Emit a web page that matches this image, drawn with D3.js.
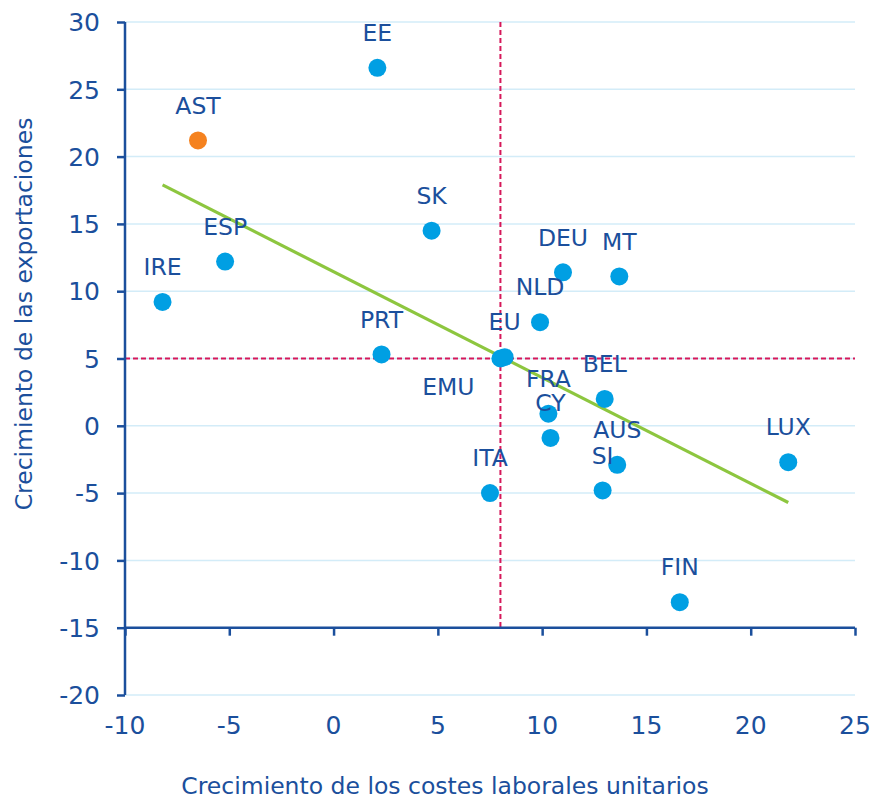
<!DOCTYPE html>
<html>
<head>
<meta charset="utf-8">
<script src="https://cdn.jsdelivr.net/npm/d3@7"></script>
<style>
  body { margin: 0; background: #fff; }
  text { font-family: "DejaVu Sans", Verdana, sans-serif; }
</style>
</head>
<body>
<div id="chart"></div>
<script>
// data
const countries = ["EE", "AST", "ESP", "IRE", "SK", "PRT", "EMU", "EU", "NLD", "DEU", "MT", "FRA", "CY", "BEL", "AUS", "SI", "ITA", "LUX", "FIN"];
const costGrowth = [2.1, -6.5, -5.2, -8.2, 4.7, 2.3, 8.0, 8.2, 9.9, 11.0, 13.7, 10.3, 10.4, 13.0, 13.6, 12.9, 7.5, 21.8, 16.6];
const exportGrowth = [26.6, 21.2, 12.2, 9.2, 14.5, 5.3, 5.0, 5.1, 7.7, 11.4, 11.1, 0.9, -0.9, 2.0, -2.9, -4.8, -5.0, -2.7, -13.1];
const highlight = ["AST"];
const trendX = [-8.2, 21.8];
const trendY = [17.9, -5.7];
const refX = 8.0;
const refY = 5;
const xTicks = [-10, -5, 0, 5, 10, 15, 20, 25];
const yTicks = [30, 25, 20, 15, 10, 5, 0, -5, -10, -15, -20];

const svgWidth = 872;
const svgHeight = 801;
const margin = { top: 22, right: 17, bottom: 106, left: 125 };
const width = svgWidth - margin.left - margin.right;
const height = svgHeight - margin.top - margin.bottom;

const axisColor = "#1b4f9c";
const textColor = "#1b4f9c";
const dotColor = "#009fe3";
const hiColor = "#f5821f";
const gridColor = "#d3ecf8";
const refColor = "#d6185a";
const trendColor = "#8dc63f";

const svg = d3.select("#chart")
    .append("svg")
    .attr("width", svgWidth)
    .attr("height", svgHeight)
    .append("g")
    .attr("transform", `translate(${margin.left},${margin.top})`);

const x = d3.scaleLinear().domain([-10, 25]).range([0, width]);
const y = d3.scaleLinear().domain([-20, 30]).range([height, 0]);

// grid
svg.append("g")
    .selectAll("line")
    .data(yTicks)
    .enter()
    .append("line")
    .attr("x1", 0)
    .attr("x2", width)
    .attr("y1", d => y(d))
    .attr("y2", d => y(d))
    .attr("stroke", gridColor)
    .attr("stroke-width", 1.5);

// reference lines
svg.append("line")
    .attr("x1", x(refX)).attr("x2", x(refX))
    .attr("y1", y(30)).attr("y2", y(-15))
    .attr("stroke", refColor)
    .attr("stroke-width", 2)
    .attr("stroke-dasharray", "5,3");

svg.append("line")
    .attr("x1", 0).attr("x2", width)
    .attr("y1", y(refY)).attr("y2", y(refY))
    .attr("stroke", refColor)
    .attr("stroke-width", 2)
    .attr("stroke-dasharray", "5,3");

// axes
const yAxis = d3.axisLeft(y).tickValues(yTicks).tickSize(8).tickPadding(17).tickFormat(d => String(d));
const gy = svg.append("g").attr("class", "y-axis").call(yAxis);

const xAxis = d3.axisBottom(x).tickValues(xTicks).tickSize(8).tickFormat(() => "");
const gx = svg.append("g")
    .attr("class", "x-axis")
    .attr("transform", `translate(0,${y(-15)})`)
    .call(xAxis);

[gx, gy].forEach(g => {
    g.select(".domain").attr("stroke", axisColor).attr("stroke-width", 2.5);
    g.selectAll(".tick line").attr("stroke", axisColor).attr("stroke-width", 2.5);
});
gx.select(".domain").attr("d", `M0,0H${width}`);
gy.select(".domain").attr("d", `M0,0V${height}`);
gy.selectAll(".tick text")
    .attr("fill", textColor)
    .style("font-size", "25px")
    .attr("dy", "0.35em");

// x tick labels sit below the bottom of the plot
svg.append("g")
    .selectAll("text")
    .data(xTicks)
    .enter()
    .append("text")
    .attr("x", d => x(d))
    .attr("y", height + 30)
    .attr("dy", "0.35em")
    .attr("text-anchor", "middle")
    .attr("fill", textColor)
    .style("font-size", "25px")
    .text(d => String(d));

// trend line
svg.append("line")
    .attr("x1", x(trendX[0])).attr("y1", y(trendY[0]))
    .attr("x2", x(trendX[1])).attr("y2", y(trendY[1]))
    .attr("stroke", trendColor)
    .attr("stroke-width", 3.2);

// points
const pts = countries.map((c, i) => ({ name: c, cx: costGrowth[i], cy: exportGrowth[i] }));

svg.selectAll(".dot")
    .data(pts)
    .enter()
    .append("circle")
    .attr("class", "dot")
    .attr("cx", d => x(d.cx))
    .attr("cy", d => y(d.cy))
    .attr("r", 9)
    .attr("fill", d => highlight.includes(d.name) ? hiColor : dotColor);

// labels: above the point, except EMU
const labelOffset = { EMU: [-52, 28] };
svg.selectAll(".lbl")
    .data(pts)
    .enter()
    .append("text")
    .attr("class", "lbl")
    .attr("x", d => x(d.cx) + (labelOffset[d.name] ? labelOffset[d.name][0] : 0))
    .attr("y", d => y(d.cy) + (labelOffset[d.name] ? labelOffset[d.name][1] : -35))
    .attr("dy", "0.35em")
    .attr("text-anchor", "middle")
    .attr("fill", textColor)
    .style("font-size", "23.5px")
    .text(d => d.name);

// axis titles
svg.append("text")
    .attr("x", 445 - margin.left)
    .attr("y", height + 99)
    .attr("text-anchor", "middle")
    .attr("fill", textColor)
    .style("font-size", "23.5px")
    .text("Crecimiento de los costes laborales unitarios");

svg.append("text")
    .attr("transform", `translate(${32 - margin.left},${314 - margin.top}) rotate(-90)`)
    .attr("text-anchor", "middle")
    .attr("fill", textColor)
    .style("font-size", "23.5px")
    .text("Crecimiento de las exportaciones");
</script>
</body>
</html>
